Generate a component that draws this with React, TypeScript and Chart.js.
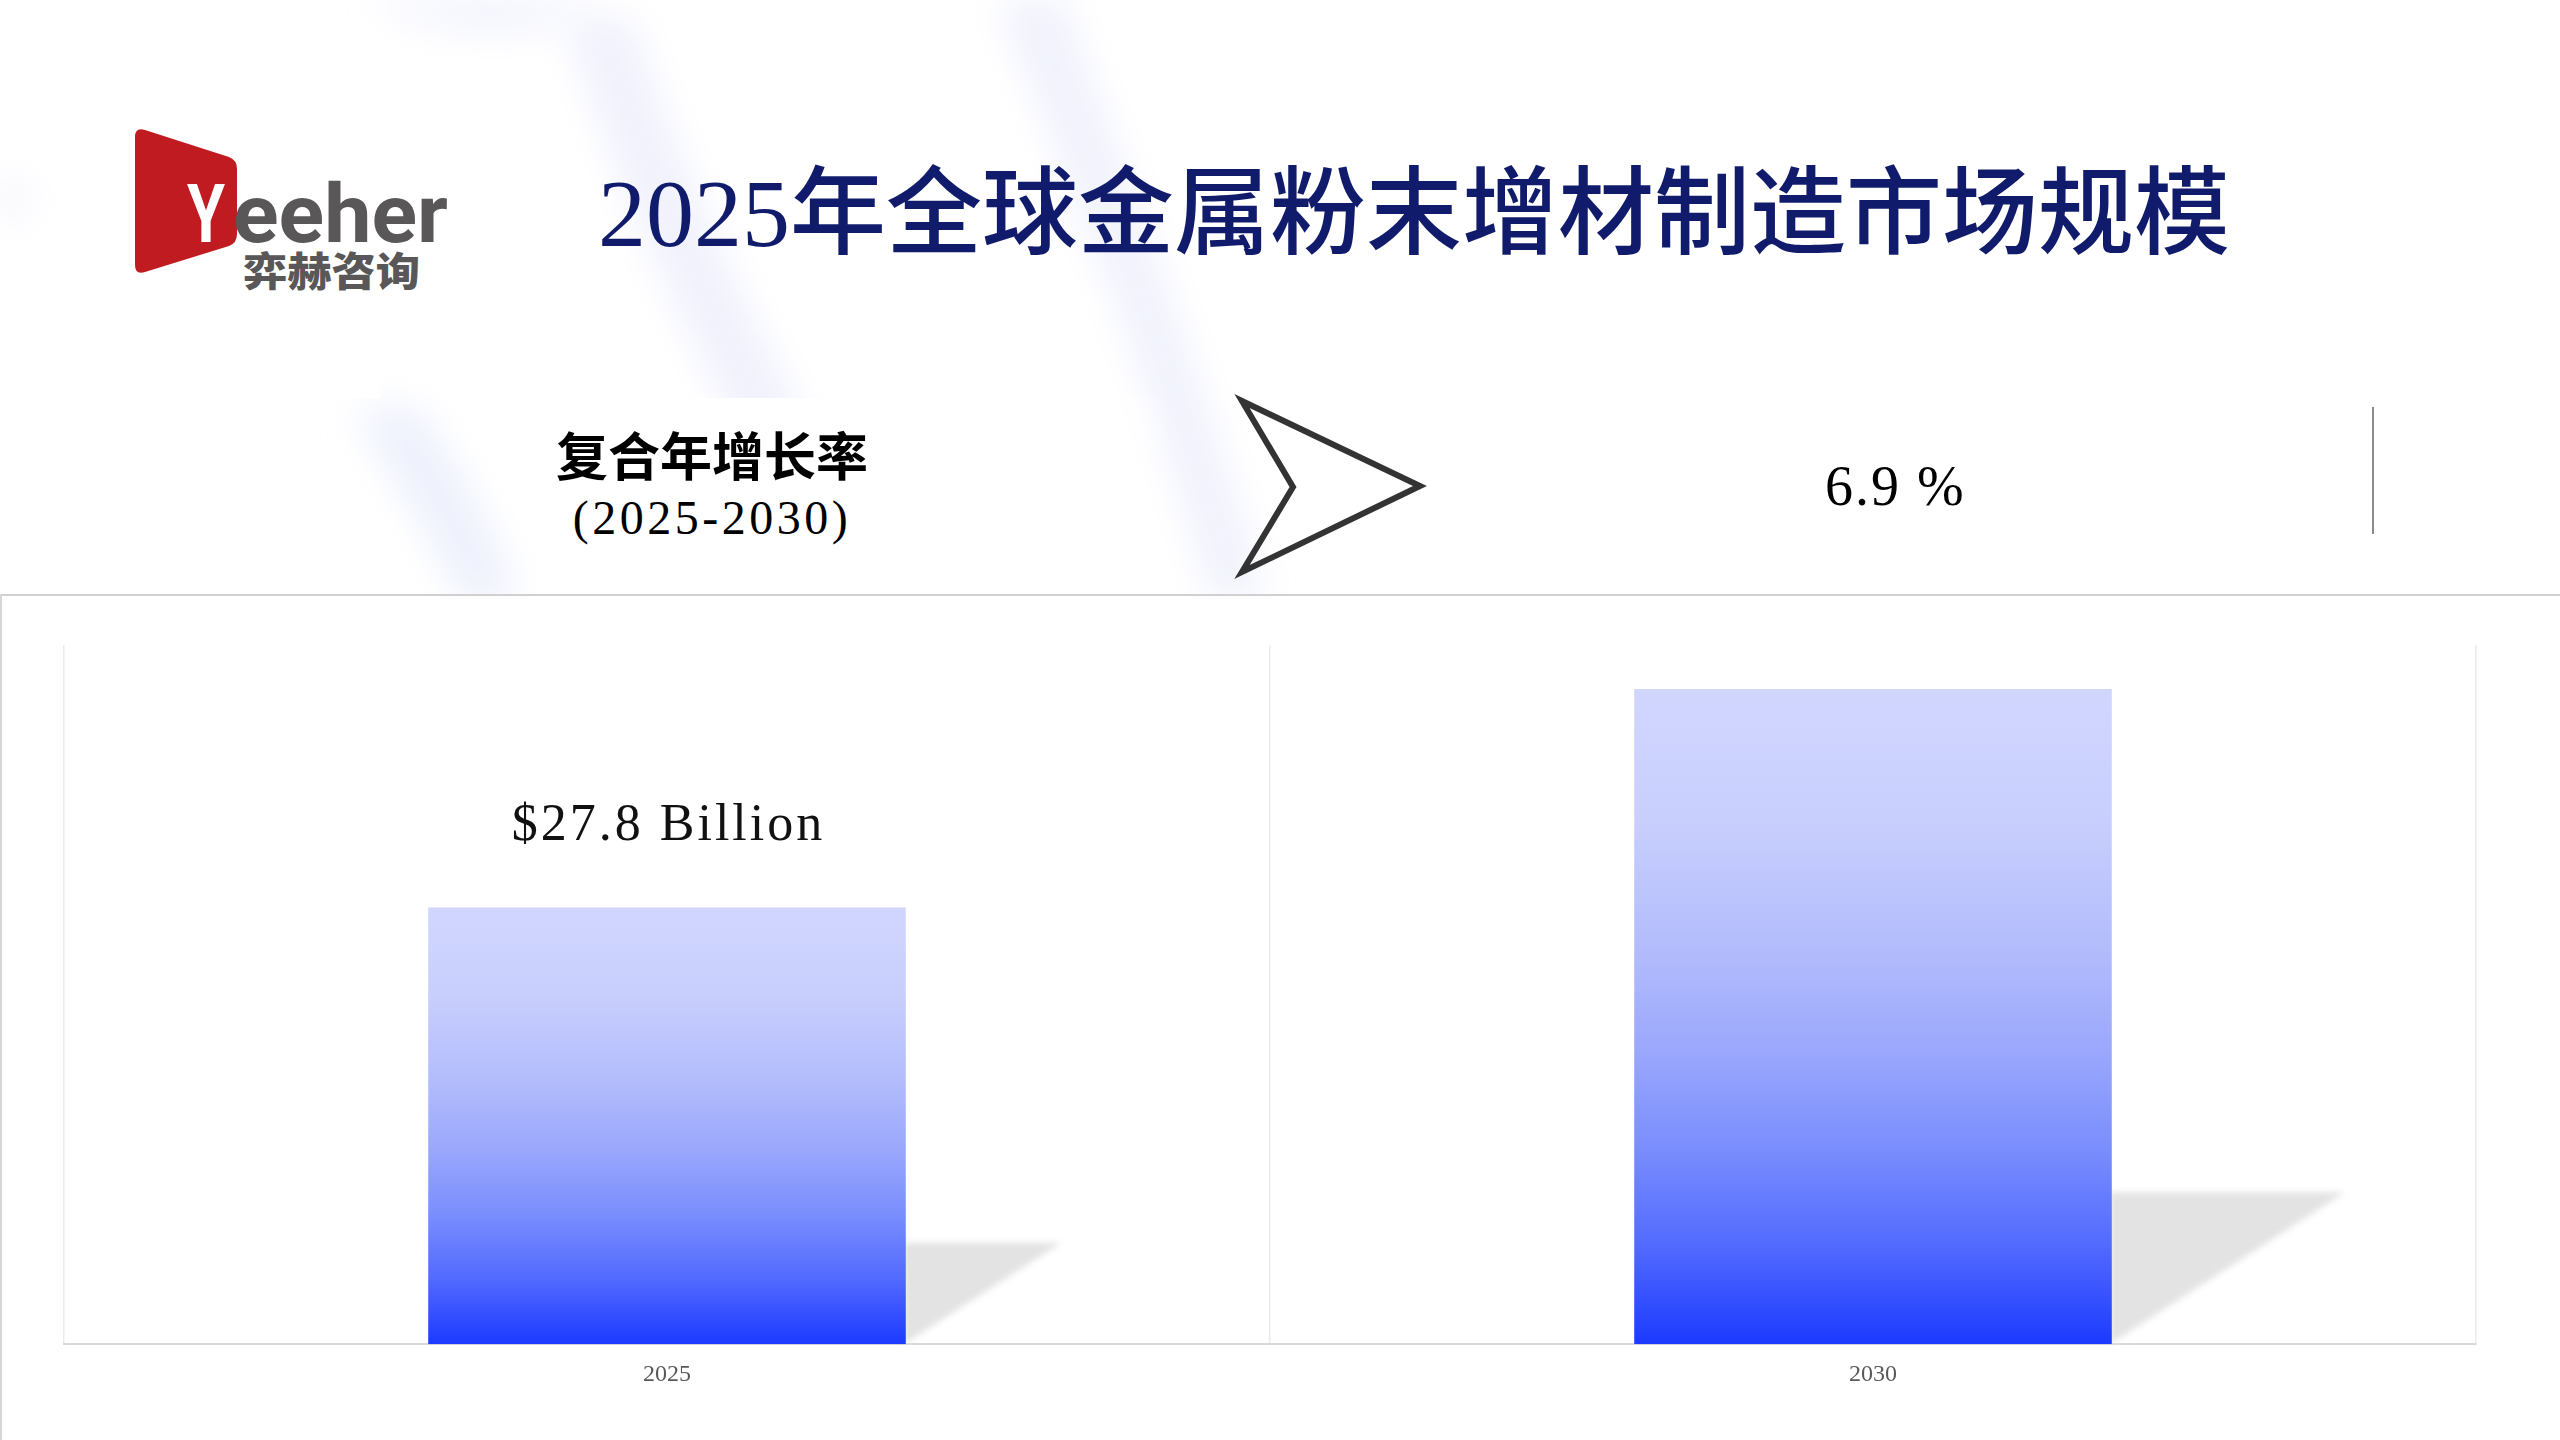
import React, { useEffect, useRef } from "react";
import { Chart, registerables } from "chart.js";

Chart.register(...registerables);

// ---- data ----
const years: string[] = ["2025", "2030"];
const marketValues: number[] = [27.8, 41.7];
const valueLabels: string[] = ["$27.8 Billion", "$41.7 Billion"];
const titleText = "2025年全球金属粉末增材制造市场规模";
const cagrLabel = "复合年增长率";
const cagrPeriod = "(2025-2030)";
const cagrValue = "6.9 %";
const yMax = 44.5;

const SERIF = "'Liberation Serif', 'Noto Sans CJK SC', serif";
const CJK = "'Noto Sans CJK SC', 'Liberation Serif', sans-serif";

const shadowPlugin = {
  id: "barShadow",
  beforeDatasetsDraw(chart: any) {
    const meta = chart.getDatasetMeta(0);
    const ctx = chart.ctx as CanvasRenderingContext2D;
    ctx.save();
    ctx.filter = "blur(3px)";
    ctx.fillStyle = "#e3e3e3";
    meta.data.forEach((el: any) => {
      const { x, y, base, width } = el.getProps(["x", "y", "base", "width"], true);
      const right = x + width / 2;
      const h = base - y;
      const topY = base - 0.232 * h;
      ctx.beginPath();
      ctx.moveTo(right - 2, topY);
      ctx.lineTo(right + 0.356 * h, topY);
      ctx.lineTo(right - 2, base);
      ctx.closePath();
      ctx.fill();
    });
    ctx.restore();
  },
};

const labelPlugin = {
  id: "barLabels",
  afterDatasetsDraw(chart: any) {
    const meta = chart.getDatasetMeta(0);
    const ctx = chart.ctx as CanvasRenderingContext2D;
    const area = chart.chartArea;
    ctx.save();
    ctx.beginPath();
    ctx.rect(area.left, area.top, area.right - area.left, area.bottom - area.top);
    ctx.clip();
    ctx.font = "52px 'Liberation Serif'";
    (ctx as any).letterSpacing = "3px";
    ctx.fillStyle = "#111111";
    ctx.textAlign = "center";
    ctx.textBaseline = "middle";
    meta.data.forEach((el: any, i: number) => {
      const { x, y } = el.getProps(["x", "y"], true);
      ctx.fillText(valueLabels[i], x + 1.5, y - 81);
    });
    ctx.restore();
  },
};

function BarChart() {
  const ref = useRef<HTMLCanvasElement | null>(null);
  useEffect(() => {
    if (!ref.current) return;
    const chart = new Chart(ref.current, {
      type: "bar",
      data: {
        labels: years,
        datasets: [
          {
            data: marketValues,
            backgroundColor: (c: any) => {
              const ch = c.chart;
              if (!ch.chartArea || !ch.scales.y) return "#8090ff";
              const ys = ch.scales.y;
              const v = marketValues[c.dataIndex] ?? 0;
              const top = ys.getPixelForValue(v);
              const bottom = ys.getPixelForValue(0);
              const g = ch.ctx.createLinearGradient(0, top, 0, bottom);
              g.addColorStop(0, "rgb(208,214,254)");
              g.addColorStop(0.2, "rgb(200,207,253)");
              g.addColorStop(0.4, "rgb(178,188,252)");
              g.addColorStop(0.55, "rgb(155,168,252)");
              g.addColorStop(0.7, "rgb(122,142,253)");
              g.addColorStop(0.85, "rgb(82,106,255)");
              g.addColorStop(1, "rgb(28,58,255)");
              return g;
            },
            borderWidth: 0,
            barPercentage: 0.396,
            categoryPercentage: 1,
          },
        ],
      },
      options: {
        responsive: false,
        animation: false,
        devicePixelRatio: 1,
        layout: { padding: { left: 64, right: 84, top: 49, bottom: 35 } },
        plugins: { legend: { display: false }, tooltip: { enabled: false } },
        scales: {
          x: {
            grid: { display: true, drawTicks: false, color: "#ececec", lineWidth: 1.5, offset: true },
            border: { display: true, color: "#dadada", width: 2 },
            ticks: {
              font: { family: "'Liberation Serif'", size: 24 },
              color: "#595959",
              padding: 16,
            },
          },
          y: { display: false, min: 0, max: yMax },
        },
      },
      plugins: [shadowPlugin, labelPlugin],
    });
    return () => chart.destroy();
  }, []);
  return <canvas ref={ref} width={2560} height={844} style={{ position: "absolute", left: 0, top: 596, width: 2560, height: 844 }} />;
}

export default function App() {
  return (
    <div style={{ position: "absolute", left: 0, top: 0, width: 2560, height: 1440, background: "#ffffff", overflow: "hidden" }}>
      {/* decorative background arcs */}
      <svg width={2560} height={600} style={{ position: "absolute", left: 0, top: 0 }}>
        <defs>
          <filter id="soft" x="-50%" y="-50%" width="200%" height="200%">
            <feGaussianBlur stdDeviation="20" />
          </filter>
          <linearGradient id="panelFade" x1="350" y1="0" x2="1170" y2="0" gradientUnits="userSpaceOnUse">
            <stop offset="0" stopColor="#ffffff" stopOpacity="1" />
            <stop offset="0.88" stopColor="#ffffff" stopOpacity="1" />
            <stop offset="1" stopColor="#ffffff" stopOpacity="0" />
          </linearGradient>
        </defs>
        <g filter="url(#soft)" fill="rgba(222,226,250,0.5)">
          <path d="M365,0 L590,0 C560,30 470,45 365,0 Z" />
          <path d="M570,20 C610,160 700,380 845,600 L900,600 C770,380 670,160 630,20 Z" />
          <path d="M1000,0 C1060,150 1140,330 1215,600 L1262,600 C1185,330 1110,150 1060,0 Z" />
          <path d="M0,180 L30,190 L25,212 L0,215 Z" />
        </g>
        <rect x={350} y={398} width={820} height={200} fill="url(#panelFade)" />
        <g filter="url(#soft)" fill="rgba(222,226,250,0.6)">
          <path d="M356,410 C400,480 440,540 464,600 L515,600 C490,530 450,460 415,410 Z" />
        </g>
        <rect x={330} y={376} width={50} height={22} fill="#ffffff" />
      </svg>

      {/* logo */}
      <svg width={500} height={320} style={{ position: "absolute", left: 0, top: 0 }}>
        <path d="M135,137 Q135,127 145,130 L229,157 Q237,160 237,169 L237,234 Q237,243 229,246 L145,272 Q135,275 135,265 Z" fill="#bf1b21" />
        <text x={187} y={242} fontFamily="Roboto" fontWeight={700} fontSize={82} fill="#ffffff" textLength={38} lengthAdjust="spacingAndGlyphs">Y</text>
        <text x={233} y={242} fontFamily="Roboto" fontWeight={700} fontSize={82} fill="#595757" textLength={215} lengthAdjust="spacingAndGlyphs">eeher</text>
        <text x={243} y={286} fontFamily="'Noto Sans CJK SC'" fontWeight={900} fontSize={40} fill="#595757" textLength={177} lengthAdjust="spacingAndGlyphs">弈赫咨询</text>
      </svg>

      {/* title */}
      <div style={{ position: "absolute", left: 598, top: 166, fontFamily: SERIF, fontSize: 96, lineHeight: 1, color: "#101b6c", whiteSpace: "nowrap", fontWeight: 500 }}>
        {titleText}
      </div>

      {/* CAGR block */}
      <div style={{ position: "absolute", left: 412, width: 600, top: 428, textAlign: "center", fontFamily: CJK, fontSize: 52, lineHeight: 1, color: "#000", fontWeight: 700, whiteSpace: "nowrap" }}>
        {cagrLabel}
      </div>
      <div style={{ position: "absolute", left: 412, width: 600, top: 494, textAlign: "center", fontFamily: SERIF, fontSize: 48, lineHeight: 1, letterSpacing: 3.5, color: "#000", whiteSpace: "nowrap" }}>
        {cagrPeriod}
      </div>
      <svg width={2560} height={600} style={{ position: "absolute", left: 0, top: 0 }}>
        <polygon points="1242,401 1420,486 1242,572 1293,487" fill="none" stroke="#333333" strokeWidth={6} strokeLinejoin="miter" />
      </svg>
      <div style={{ position: "absolute", left: 1825, top: 458, fontFamily: SERIF, fontSize: 56, lineHeight: 1, letterSpacing: 2, color: "#000", whiteSpace: "nowrap" }}>
        {cagrValue}
      </div>
      <div style={{ position: "absolute", left: 2372, top: 407, width: 2, height: 127, background: "#8a8a8a" }} />

      {/* chart card */}
      <div style={{ position: "absolute", left: 0, top: 594, width: 2560, height: 846, background: "#ffffff", borderTop: "2px solid #d0d0d0", boxSizing: "border-box" }} />
      <div style={{ position: "absolute", left: 0, top: 594, width: 2, height: 846, background: "#d6d6d6" }} />
      <BarChart />
    </div>
  );
}
